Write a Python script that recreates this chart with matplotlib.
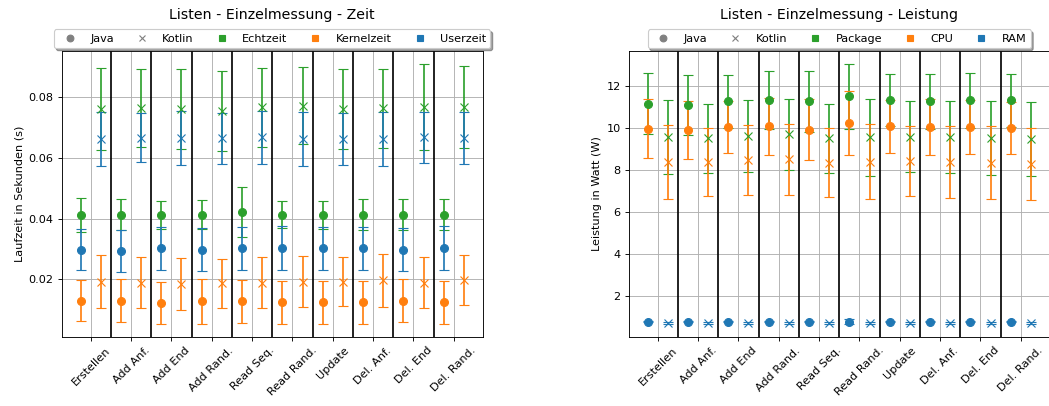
import numpy as np
import matplotlib
matplotlib.use("Agg")
import matplotlib.pyplot as plt
from matplotlib.lines import Line2D

categories = ["Erstellen", "Add Anf.", "Add End", "Add Rand.", "Read Seq.",
              "Read Rand.", "Update", "Del. Anf.", "Del. End", "Del. Rand."]

# Zeit (s)
echt_java = [0.0413, 0.0413, 0.0411, 0.0413, 0.0421, 0.0413, 0.0411, 0.0413, 0.0413, 0.0413]
echt_java_err = [0.0056, 0.0050, 0.0046, 0.0047, 0.0082, 0.0044, 0.0046, 0.0050, 0.0050, 0.0050]
kernel_java = [0.0131, 0.0131, 0.0122, 0.0128, 0.0128, 0.0125, 0.0125, 0.0125, 0.0131, 0.0125]
kernel_java_err = [0.0068, 0.0070, 0.0069, 0.0073, 0.0071, 0.0071, 0.0071, 0.0071, 0.0070, 0.0071]
user_java = [0.0298, 0.0295, 0.0302, 0.0298, 0.0302, 0.0302, 0.0302, 0.0302, 0.0298, 0.0302]
user_java_err = [0.0068, 0.0069, 0.0070, 0.0071, 0.0070, 0.0072, 0.0070, 0.0070, 0.0071, 0.0072]

echt_kotlin = [0.0760, 0.0763, 0.0760, 0.0753, 0.0765, 0.0770, 0.0760, 0.0762, 0.0767, 0.0767]
echt_kotlin_err = [0.0134, 0.0127, 0.0131, 0.0130, 0.0129, 0.0127, 0.0131, 0.0130, 0.0141, 0.0135]
kernel_kotlin = [0.0193, 0.0190, 0.0186, 0.0188, 0.0190, 0.0193, 0.0193, 0.0197, 0.0190, 0.0197]
kernel_kotlin_err = [0.0086, 0.0083, 0.0085, 0.0080, 0.0083, 0.0083, 0.0080, 0.0086, 0.0083, 0.0082]
user_kotlin = [0.0661, 0.0665, 0.0664, 0.0663, 0.0666, 0.0662, 0.0661, 0.0662, 0.0666, 0.0664]
user_kotlin_err = [0.0087, 0.0081, 0.0088, 0.0083, 0.0086, 0.0089, 0.0085, 0.0089, 0.0085, 0.0084]

# Leistung (W)
pkg_java = [11.16, 11.08, 11.27, 11.35, 11.27, 11.51, 11.32, 11.27, 11.32, 11.32]
pkg_java_err = [1.46, 1.43, 1.24, 1.38, 1.46, 1.56, 1.24, 1.32, 1.33, 1.27]
cpu_java = [9.97, 9.92, 10.05, 10.08, 9.92, 10.24, 10.08, 10.05, 10.05, 10.02]
cpu_java_err = [1.40, 1.38, 1.25, 1.35, 1.46, 1.52, 1.27, 1.33, 1.30, 1.24]
ram_java = [0.78, 0.78, 0.78, 0.78, 0.78, 0.78, 0.78, 0.78, 0.78, 0.78]
ram_java_err = [0.03, 0.03, 0.03, 0.03, 0.03, 0.13, 0.03, 0.03, 0.03, 0.03]

pkg_kotlin = [9.57, 9.52, 9.62, 9.70, 9.51, 9.56, 9.60, 9.57, 9.53, 9.48]
pkg_kotlin_err = [1.76, 1.64, 1.70, 1.68, 1.65, 1.83, 1.68, 1.71, 1.75, 1.75]
cpu_kotlin = [8.38, 8.39, 8.47, 8.51, 8.36, 8.40, 8.42, 8.38, 8.35, 8.31]
cpu_kotlin_err = [1.75, 1.64, 1.67, 1.68, 1.66, 1.78, 1.67, 1.71, 1.73, 1.72]
ram_kotlin = [0.70, 0.70, 0.70, 0.70, 0.70, 0.70, 0.70, 0.70, 0.70, 0.70]
ram_kotlin_err = [0.04, 0.04, 0.04, 0.04, 0.04, 0.04, 0.04, 0.04, 0.04, 0.04]

GREEN, ORANGE, BLUE = "tab:green", "tab:orange", "tab:blue"

DPI = 81
fig = plt.figure(figsize=(1049 / DPI, 406 / DPI), dpi=DPI)
W, H = 1049, 406
ax1 = fig.add_axes([61.5 / W, (H - 337.3) / H, 421.5 / W, 286.6 / H])
ax2 = fig.add_axes([628.5 / W, (H - 337.3) / H, 421.5 / W, 286.6 / H])

x = np.arange(len(categories))
off = 0.25


def panel(ax, series, title, ylabel, names):
    for (jm, je, km, ke, c) in series:
        ax.errorbar(x - off, jm, yerr=je, fmt="o", color=c, capsize=4.6, ms=7)
        ax.errorbar(x + off, km, yerr=ke, fmt="x", color=c, capsize=4.6, ms=7)
    for i in range(len(categories) - 1):
        ax.axvline(i + 0.5, color="black", lw=1.5)
    ax.set_xticks(x)
    ax.set_xticklabels(categories, rotation=45)
    ax.grid(True)
    ax.set_axisbelow(True)
    ax.set_ylabel(ylabel)
    ax.set_title(title, pad=28, fontsize=12.5)
    handles = [
        Line2D([], [], marker="o", color="gray", ls="none", label="Java"),
        Line2D([], [], marker="x", color="gray", ls="none", label="Kotlin"),
        Line2D([], [], marker="s", color=GREEN, ls="none", label=names[0]),
        Line2D([], [], marker="s", color=ORANGE, ls="none", label=names[1]),
        Line2D([], [], marker="s", color=BLUE, ls="none", label=names[2]),
    ]
    ax.legend(handles=handles, loc="lower center", bbox_to_anchor=(0.5, 1.0),
              ncol=5, shadow=True, columnspacing=1.5, borderaxespad=0.2)


panel(ax1, [(echt_java, echt_java_err, echt_kotlin, echt_kotlin_err, GREEN),
            (kernel_java, kernel_java_err, kernel_kotlin, kernel_kotlin_err, ORANGE),
            (user_java, user_java_err, user_kotlin, user_kotlin_err, BLUE)],
      "Listen - Einzelmessung - Zeit", "Laufzeit in Sekunden (s)",
      ["Echtzeit", "Kernelzeit", "Userzeit"])

panel(ax2, [(pkg_java, pkg_java_err, pkg_kotlin, pkg_kotlin_err, GREEN),
            (cpu_java, cpu_java_err, cpu_kotlin, cpu_kotlin_err, ORANGE),
            (ram_java, ram_java_err, ram_kotlin, ram_kotlin_err, BLUE)],
      "Listen - Einzelmessung - Leistung", "Leistung in Watt (W)",
      ["Package", "CPU", "RAM"])

fig.savefig("out.png", dpi=DPI)
